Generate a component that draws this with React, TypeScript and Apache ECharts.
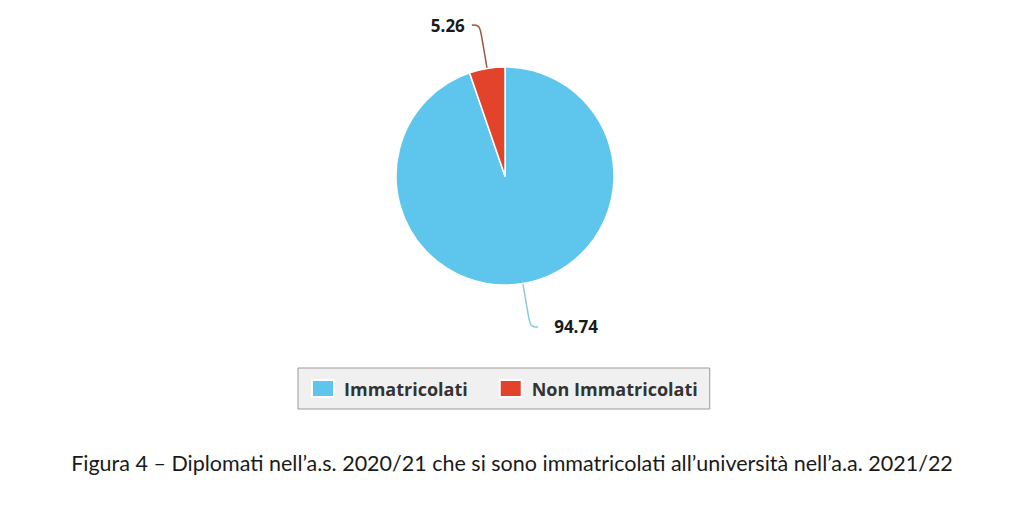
import React, { useEffect, useRef } from "react";
import * as echarts from "echarts";

const categories = ["Immatricolati", "Non Immatricolati"];
const values = [94.74, 5.26];
const colors = ["#5ec6ec", "#e4432b"];
const lineColors = ["#8cc9dc", "#a0553f"];
const labelGaps = [16, 7];
const caption = "Figura 4 – Diplomati nell’a.s. 2020/21 che si sono immatricolati all’università nell’a.a. 2021/22";

export default function App() {
  const ref = useRef<HTMLDivElement>(null);
  useEffect(() => {
    if (!ref.current) return;
    const chart = echarts.init(ref.current, null, { renderer: "svg" });
    chart.setOption({
      animation: false,
      backgroundColor: "#ffffff",
      title: {
        text: caption,
        left: "center",
        top: 447,
        textStyle: {
          fontFamily: "Lato, sans-serif",
          fontSize: 21.5,
          fontWeight: "normal",
          color: "#1a1a1a",
        },
      },
      legend: {
        data: categories,
        top: 368,
        left: 298,
        backgroundColor: "#f0f0f0",
        borderColor: "#9a9a9a",
        borderWidth: 1,
        borderRadius: 0,
        padding: [11, 12, 11, 13],
        itemWidth: 22,
        itemHeight: 17,
        itemGap: 31,
        icon: "rect",
        textStyle: {
          fontFamily: "'Open Sans', sans-serif",
          fontSize: 18,
          fontWeight: "bold",
          color: "#333333",
          padding: [0, 0, 0, 5],
        },
      },
      series: [
        {
          type: "pie",
          center: [505, 176],
          radius: [0, 109],
          startAngle: 90,
          clockwise: true,
          data: categories.map((name, i) => ({
            name,
            value: values[i],
            itemStyle: { color: colors[i] },
            label: { distanceToLabelLine: labelGaps[i] },
            labelLine: { lineStyle: { color: lineColors[i], width: 1.5 } },
          })),
          itemStyle: { borderColor: "#ffffff", borderWidth: 1.5 },
          label: {
            show: true,
            formatter: (p: any) => p.value.toFixed(2),
            fontFamily: "'Open Sans', sans-serif",
            fontSize: 17,
            fontWeight: "bold",
            color: "#1a1a1a",
          },
          labelLine: {
            show: true,
            length: 44,
            length2: 8,
            smooth: 0.4,
          },
          emphasis: { disabled: true },
        },
      ],
    });
    return () => chart.dispose();
  }, []);
  return (
    <div
      ref={ref}
      style={{ position: "fixed", left: 0, top: 0, width: 1024, height: 523 }}
    />
  );
}
